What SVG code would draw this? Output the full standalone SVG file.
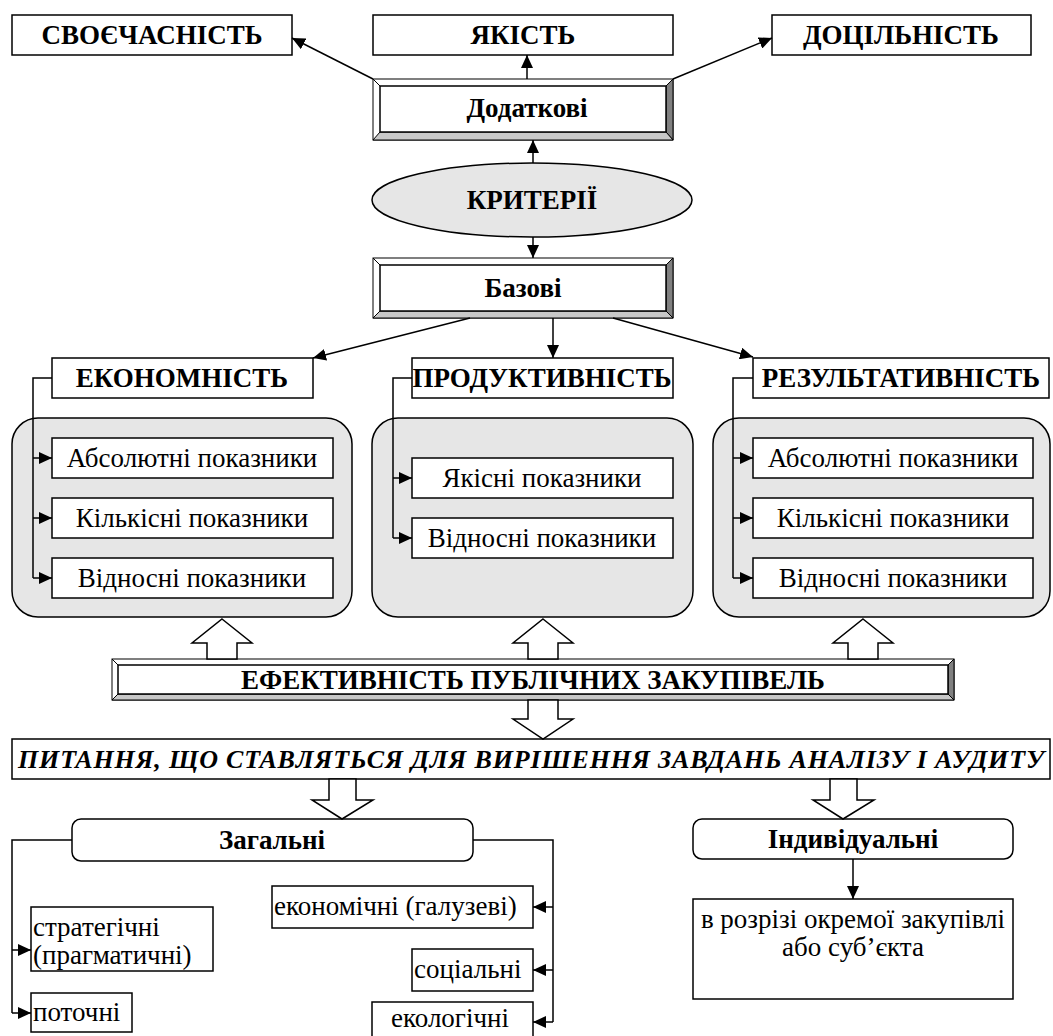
<svg xmlns="http://www.w3.org/2000/svg" width="1053" height="1036" viewBox="0 0 1053 1036">
<style>
.b{fill:#fff;stroke:#000;stroke-width:1.5}
.g{fill:#e6e6e6;stroke:#000;stroke-width:1.5}
.dk{fill:#808080;stroke:#000;stroke-width:1}
.lt{fill:#c8c8c8;stroke:#000;stroke-width:1}
.wt{fill:#fff;stroke:#000;stroke-width:1}
.ln{fill:none;stroke:#000;stroke-width:1.5}
.ha{fill:#fff;stroke:#000;stroke-width:1.5;stroke-linejoin:miter}
text{font-family:"Liberation Serif","Times New Roman",serif;fill:#000}
.tb{font-weight:bold;font-size:27px;text-anchor:middle}
.tr{font-size:27px;text-anchor:middle}
.tl{font-size:27px;text-anchor:start}
.ti{font-weight:bold;font-style:italic;font-size:26px;text-anchor:middle}
</style>
<defs>
<marker id="ah" viewBox="0 0 13 12" markerWidth="13" markerHeight="12" refX="13" refY="6" orient="auto" markerUnits="userSpaceOnUse">
<path d="M0,0 L13,6 L0,12 z" fill="#000"/>
</marker>
</defs>

<g id="svoiechasnist"><rect class="b" x="12" y="15" width="280" height="40"/><text class="tb" x="152" y="44">СВОЄЧАСНІСТЬ</text></g>
<g id="yakist"><rect class="b" x="373" y="15" width="300" height="40"/><text class="tb" x="523" y="44">ЯКІСТЬ</text></g>
<g id="dotsilnist"><rect class="b" x="772" y="15" width="259" height="40"/><text class="tb" x="901" y="44">ДОЦІЛЬНІСТЬ</text></g>

<g id="dodatkovi">
<rect class="wt" x="373" y="79" width="300" height="61"/>
<polygon class="dk" points="666,86 673,79 673,140 666,132"/>
<polygon class="lt" points="373,140 380,132 666,132 673,140"/>
<line class="wt" x1="373" y1="79" x2="380" y2="86"/>
<rect class="b" x="380" y="86" width="286" height="46"/>
<text class="tb" x="527" y="117">Додаткові</text>
</g>

<g id="kryterii"><ellipse class="g" cx="532" cy="200" rx="160" ry="37"/><text class="tb" x="532" y="209">КРИТЕРІЇ</text></g>

<g id="bazovi">
<rect class="wt" x="373" y="258" width="300" height="60"/>
<polygon class="dk" points="666,265 673,258 673,318 666,311"/>
<polygon class="lt" points="373,318 380,311 666,311 673,318"/>
<line class="wt" x1="373" y1="258" x2="380" y2="265"/>
<rect class="b" x="380" y="265" width="286" height="46"/>
<text class="tb" x="523" y="297">Базові</text>
</g>

<g id="ekonomnist"><rect class="b" x="52" y="358" width="261" height="40"/><text class="tb" x="182" y="387">ЕКОНОМНІСТЬ</text></g>
<g id="produktyvnist"><rect class="b" x="412" y="358" width="261" height="40"/><text class="tb" x="542" y="387">ПРОДУКТИВНІСТЬ</text></g>
<g id="rezultatyvnist"><rect class="b" x="753" y="358" width="296" height="40"/><text class="tb" x="901" y="387">РЕЗУЛЬТАТИВНІСТЬ</text></g>

<g id="group-ekon">
<rect class="g" x="12" y="418" width="340" height="199" rx="26"/>
<rect class="b" x="52" y="438" width="281" height="40"/><text class="tr" x="192" y="467">Абсолютні показники</text>
<rect class="b" x="52" y="498" width="281" height="40"/><text class="tr" x="192" y="527">Кількісні показники</text>
<rect class="b" x="52" y="558" width="281" height="40"/><text class="tr" x="192" y="587">Відносні показники</text>
</g>
<g id="group-prod">
<rect class="g" x="372" y="418" width="321" height="199" rx="26"/>
<rect class="b" x="412" y="458" width="261" height="40"/><text class="tr" x="542" y="487">Якісні показники</text>
<rect class="b" x="412" y="518" width="261" height="40"/><text class="tr" x="542" y="547">Відносні показники</text>
</g>
<g id="group-rez">
<rect class="g" x="713" y="418" width="337" height="199" rx="26"/>
<rect class="b" x="753" y="438" width="280" height="40"/><text class="tr" x="893" y="467">Абсолютні показники</text>
<rect class="b" x="753" y="498" width="280" height="40"/><text class="tr" x="893" y="527">Кількісні показники</text>
<rect class="b" x="753" y="558" width="280" height="40"/><text class="tr" x="893" y="587">Відносні показники</text>
</g>

<g id="efektyvnist">
<rect class="wt" x="112" y="659" width="842" height="41"/>
<polygon class="dk" points="948,665 954,659 954,700 948,694"/>
<polygon class="lt" points="112,700 118,694 948,694 954,700"/>
<line class="wt" x1="112" y1="659" x2="118" y2="665"/>
<rect class="b" x="118" y="665" width="830" height="29"/>
<text class="tb" x="533" y="689">ЕФЕКТИВНІСТЬ ПУБЛІЧНИХ ЗАКУПІВЕЛЬ</text>
</g>

<g id="pytannia"><rect class="b" x="12" y="739" width="1038" height="40"/><text class="ti" x="531" y="768" textLength="1026" lengthAdjust="spacing">ПИТАННЯ, ЩО СТАВЛЯТЬСЯ ДЛЯ ВИРІШЕННЯ ЗАВДАНЬ АНАЛІЗУ І АУДИТУ</text></g>

<g id="zagalni"><rect class="b" x="72" y="819" width="401" height="42" rx="9"/><text class="tb" x="272" y="849">Загальні</text></g>
<g id="indyvidualni"><rect class="b" x="693" y="819" width="320" height="40" rx="9"/><text class="tb" x="853" y="848">Індивідуальні</text></g>

<g id="stratehichni"><rect class="b" x="31" y="907" width="182" height="64"/><text class="tl" x="33" y="936">стратегічні</text><text class="tl" x="33" y="964">(прагматичні)</text></g>
<g id="potochni"><rect class="b" x="31" y="993" width="101" height="39"/><text class="tl" x="33" y="1021">поточні</text></g>
<g id="ekonomichni"><rect class="b" x="272" y="886" width="261" height="42"/><text class="tl" x="274" y="915">економічні (галузеві)</text></g>
<g id="sotsialni"><rect class="b" x="412" y="949" width="121" height="42"/><text class="tl" x="414" y="978">соціальні</text></g>
<g id="ekolohichni"><rect class="b" x="372" y="1002" width="161" height="40"/><text class="tr" x="450" y="1027">екологічні</text></g>
<g id="v-rozrizi"><rect class="b" x="693" y="899" width="320" height="100"/><text class="tr" x="853" y="928">в розрізі окремої закупівлі</text><text class="tr" x="853" y="956">або суб’єкта</text></g>

<g id="connectors">
<line class="ln" x1="373" y1="79" x2="292" y2="38" marker-end="url(#ah)"/>
<line class="ln" x1="673" y1="79" x2="772" y2="38" marker-end="url(#ah)"/>
<line class="ln" x1="527" y1="79" x2="527" y2="55" marker-end="url(#ah)"/>
<line class="ln" x1="533" y1="163" x2="533" y2="140" marker-end="url(#ah)"/>
<line class="ln" x1="533" y1="237" x2="533" y2="258" marker-end="url(#ah)"/>
<line class="ln" x1="470" y1="318" x2="313" y2="358" marker-end="url(#ah)"/>
<line class="ln" x1="553" y1="318" x2="553" y2="358" marker-end="url(#ah)"/>
<line class="ln" x1="613" y1="318" x2="753" y2="357" marker-end="url(#ah)"/>

<polyline class="ln" points="52,378 33,378 33,578"/>
<line class="ln" x1="33" y1="458" x2="52" y2="458" marker-end="url(#ah)"/>
<line class="ln" x1="33" y1="518" x2="52" y2="518" marker-end="url(#ah)"/>
<line class="ln" x1="33" y1="578" x2="52" y2="578" marker-end="url(#ah)"/>

<polyline class="ln" points="412,378 393,378 393,538"/>
<line class="ln" x1="393" y1="478" x2="412" y2="478" marker-end="url(#ah)"/>
<line class="ln" x1="393" y1="538" x2="412" y2="538" marker-end="url(#ah)"/>

<polyline class="ln" points="753,378 733,378 733,578"/>
<line class="ln" x1="733" y1="458" x2="753" y2="458" marker-end="url(#ah)"/>
<line class="ln" x1="733" y1="518" x2="753" y2="518" marker-end="url(#ah)"/>
<line class="ln" x1="733" y1="578" x2="753" y2="578" marker-end="url(#ah)"/>

<polygon class="ha" points="222,619 252,643 237,643 237,659 207,659 207,643 192,643"/>
<polygon class="ha" points="543,619 573,643 558,643 558,659 528,659 528,643 513,643"/>
<polygon class="ha" points="863,619 893,643 878,643 878,659 848,659 848,643 833,643"/>
<polygon class="ha" points="528,700 558,700 558,719 573,719 543,739 513,719 528,719"/>
<polygon class="ha" points="329,779 356,779 356,800 373,800 342,819 312,800 329,800"/>
<polygon class="ha" points="830,779 857,779 857,800 874,800 843,819 813,800 830,800"/>

<polyline class="ln" points="72,840 12,840 12,1013"/>
<line class="ln" x1="12" y1="950" x2="31" y2="950" marker-end="url(#ah)"/>
<line class="ln" x1="12" y1="1013" x2="31" y2="1013" marker-end="url(#ah)"/>

<polyline class="ln" points="473,840 553,840 553,1022"/>
<line class="ln" x1="553" y1="907" x2="533" y2="907" marker-end="url(#ah)"/>
<line class="ln" x1="553" y1="970" x2="533" y2="970" marker-end="url(#ah)"/>
<line class="ln" x1="553" y1="1022" x2="533" y2="1022" marker-end="url(#ah)"/>

<line class="ln" x1="853" y1="859" x2="853" y2="899" marker-end="url(#ah)"/>
</g>
</svg>
